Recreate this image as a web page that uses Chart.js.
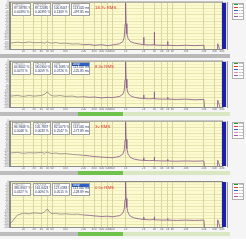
<!DOCTYPE html>
<html>
<head>
<meta charset="utf-8">
<script src="https://cdn.jsdelivr.net/npm/chart.js@4/dist/chart.umd.min.js"></script>
<style>
  body { margin: 0; background: #fff; font-family: "Liberation Sans", "DejaVu Sans", sans-serif; }
  #wrap { position: relative; width: 246px; height: 240px; overflow: hidden; background: #fff; }
  .panel { position: absolute; left: 0; width: 246px; height: 60px; background: #f5f5f5; }
  .panel canvas { position: absolute; }
  .box { position: absolute; background: #fff; border: 1px solid #a0a0a0; box-sizing: border-box;
         color: #1c2a55; font-size: 3.2px; line-height: 3.4px; padding: 0 1px; white-space: nowrap; overflow: hidden; }
  .box .hd { color: #888; font-size: 2.6px; line-height: 3.4px; }
  .box .hd.sel { background: #2f62c8; color: #fff; margin: 0 -1px; padding: 0 1px; }
  .rms { position: absolute; color: #e4322a; font-size: 4.3px; white-space: nowrap; }
  .legend { position: absolute; left: 232px; width: 12px; background: #fff; border: 1px solid #b0b0b0; box-sizing: border-box;
            font-size: 2.4px; line-height: 2.8px; color: #444; padding: 0 1px; white-space: nowrap; overflow: hidden; }
  .legend i { display: inline-block; width: 4px; height: 1px; vertical-align: middle; margin-right: 1px; }
  .strip { position: absolute; height: 4px; }
</style>
</head>
<body>
<div id="wrap"></div>
<script>
// frequency points shared by all four sweeps (Hz)
const freqHz = [12, 16, 20, 25, 30, 40, 45, 50, 55, 60, 70, 80, 100, 130, 160, 200, 250, 300, 400, 500,
  600, 700, 800, 900, 950, 980, 1000, 1020, 1050, 1100, 1200, 1400, 1700, 1980, 2000, 2020, 2500, 2970, 3000, 3030,
  4000, 4950, 5000, 5050, 7000, 10000, 14000, 20000, 21000, 22000, 30000, 33000, 34000, 35000, 40000];

// levels in dBr, one array per output level
const level187 = [-131, -128, -130, -127, -130, -129, -131, -127, -130, -131, -129, -132, -131, -134, -133, -136, -135, -138, -136, -139,
  -137, -135, -133, -126, -112, -70, 0, -68, -101, -116, -126, -131, -134, -136, -112, -136, -137, -136, -96, -137,
  -138, -138, -126, -138, -139, -138, -139, -138, -175, -175, -175, -175, -133, -140, -175];
const level83 = [-114, -112, -115, -112, -114, -112, -108, -100, -109, -113, -114, -112, -115, -114, -117, -116, -118, -117, -120, -118,
  -119, -117, -115, -108, -95, -60, 0, -58, -88, -104, -113, -118, -121, -122, -110, -122, -123, -122, -100, -123,
  -124, -124, -118, -124, -125, -124, -126, -125, -175, -175, -175, -175, -128, -134, -175];
const level3 = [-106, -104, -107, -105, -106, -104, -107, -103, -106, -108, -106, -109, -108, -111, -112, -114, -116, -118, -120, -121,
  -122, -120, -117, -110, -96, -62, 0, -60, -92, -110, -121, -127, -130, -131, -122, -131, -132, -131, -120, -132,
  -133, -133, -128, -133, -134, -133, -134, -133, -175, -175, -175, -175, -131, -138, -175];
const level05 = [-140, -110, -104, -106, -103, -105, -100, -90, -101, -106, -104, -107, -106, -108, -107, -110, -111, -113, -115, -114,
  -116, -114, -112, -104, -90, -58, 0, -55, -85, -103, -114, -120, -123, -125, -117, -125, -126, -125, -116, -126,
  -127, -127, -122, -127, -128, -127, -128, -127, -175, -175, -175, -175, -126, -134, -175];

const rmsLabels = ["18.7v RMS", "8.3v RMS", "3v RMS", "0.5v RMS"];
const boxTitles = ["THD+N L", "THD+N R", "Level", "Delay"];
const boxValues = [
  [["87.58785 %", "0.00390 %"], ["87.22085 %", "0.00395 %"], ["100.8447 %", "0.1309 %"], ["113.020 ms", "-497.85 ms"]],
  [["64.8002 %", "0.0073 %"], ["58.0300 %", "0.0059 %"], ["96.1685 %", "0.0726 %"], ["113.040 ms", "-125.85 ms"]],
  [["86.9848 %", "0.0048 %"], ["105.7837 %", "0.0033 %"], ["82.5073 %", "0.2547 %"], ["113.040 ms", "-177.89 ms"]],
  [["385.8347 %", "0.0327 %"], ["161.6423 %", "0.0094 %"], ["127.0383 %", "0.0515 %"], ["113.040 ms", "-128.89 ms"]]
];
const xTickHz = [20, 30, 40, 50, 60, 100, 200, 300, 400, 500, 600, 1000, 2000, 3000, 4000, 5000, 6000, 10000, 20000, 30000, 40000];
const meterTop = [0, 0, 0, 0];
const legendNames = ["Left", "Right", "L avg", "R avg", "Ref"];
const legendColors = ["#2c9a3a", "#d83a3a", "#3a5ac8", "#e58ab8", "#9a5aa8"];

const levels = [level187, level83, level3, level05];
// layout: panel top, plot top/bottom inside panel
const panelTop = [0, 59, 119, 179];
const plotTop = [2, 2, 2, 3];
const plotBottom = [49, 48, 47, 48];
const boxX = [12, 33, 52, 71];
const boxW = [19, 18, 18, 19];
const selectedBox = [false, true, false, true];

function hzLabel(v) {
  return v >= 1000 ? (v / 1000) + "k" : String(v);
}

// yellow plot background + frame
const plotBg = {
  id: "plotBg",
  beforeDraw(chart) {
    const a = chart.chartArea, ctx = chart.ctx;
    ctx.save();
    ctx.fillStyle = "#fcfacf";
    ctx.fillRect(a.left, a.top, a.right - a.left, a.bottom - a.top);
    ctx.restore();
  },
  afterDraw(chart) {
    const a = chart.chartArea, ctx = chart.ctx;
    ctx.save();
    ctx.strokeStyle = "#8c8c8c";
    ctx.lineWidth = 1;
    ctx.strokeRect(a.left - 0.5, a.top - 0.5, a.right - a.left + 1, a.bottom - a.top + 1);
    ctx.restore();
  }
};

const wrap = document.getElementById("wrap");

levels.forEach((lv, p) => {
  let panel = document.createElement("div");
  panel.className = "panel";
  panel.style.top = panelTop[p] + "px";
  wrap.appendChild(panel);

  // spectrum chart
  let cv = document.createElement("canvas");
  cv.width = 246; cv.height = 60;
  cv.style.left = "0px"; cv.style.top = "0px";
  cv.style.width = "246px"; cv.style.height = "60px";
  panel.appendChild(cv);

  new Chart(cv, {
    type: "line",
    data: {
      datasets: [{
        data: freqHz.map((f, i) => ({ x: f, y: lv[i] })),
        borderColor: "#8f8580",
        borderWidth: 0.8,
        pointRadius: 0,
        tension: 0,
        segment: {
          borderColor: c => c.p0.parsed.x >= 180 ? "#86588a" : "#8f8580"
        }
      }]
    },
    options: {
      responsive: false,
      animation: false,
      devicePixelRatio: 1,
      layout: { padding: { top: plotTop[p], right: 24, bottom: 60 - plotBottom[p] - 4, left: 1 } },
      plugins: { legend: { display: false }, tooltip: { enabled: false } },
      scales: {
        x: {
          type: "logarithmic",
          min: 12, max: 40000,
          afterBuildTicks: s => { s.ticks = xTickHz.map(v => ({ value: v })); },
          afterFit: s => { s.height = 4; },
          ticks: { autoSkip: false, maxRotation: 0, padding: 0, font: { size: 3 }, color: "#707070",
                   callback: v => hzLabel(v) },
          grid: { color: "#c9c38a", lineWidth: 0.7, drawTicks: false },
          border: { color: "#8c8c8c" }
        },
        y: {
          min: -150, max: 0,
          afterFit: s => { s.width = 9; },
          ticks: { stepSize: 10, autoSkip: false, padding: 1, font: { size: 2.6 }, color: "#808080" },
          grid: { color: c => c.tick.value % 20 === 0 ? "#d9d39c" : "#ece8b6", lineWidth: 0.6, drawTicks: false },
          border: { color: "#8c8c8c" }
        }
      }
    },
    plugins: [plotBg]
  });

  // level meter on the right
  let mv = document.createElement("canvas");
  mv.width = 14; mv.height = 60;
  mv.style.left = "221px"; mv.style.top = "0px";
  mv.style.width = "14px"; mv.style.height = "60px";
  panel.appendChild(mv);

  new Chart(mv, {
    type: "bar",
    data: {
      labels: ["L"],
      datasets: [{ data: [[-150, meterTop[p]]], backgroundColor: "#1d1fa6", barPercentage: 1, categoryPercentage: 0.7 }]
    },
    options: {
      responsive: false,
      animation: false,
      devicePixelRatio: 1,
      layout: { padding: { top: plotTop[p], bottom: 60 - plotBottom[p], left: 0, right: 0 } },
      plugins: { legend: { display: false }, tooltip: { enabled: false } },
      scales: {
        x: { display: false },
        y: {
          position: "right",
          min: -150, max: 0,
          afterFit: s => { s.width = 8; },
          ticks: { stepSize: 10, autoSkip: false, padding: 1, font: { size: 2.4 }, color: "#606060" },
          grid: { display: false },
          border: { color: "#9a9a9a" }
        }
      }
    }
  });

  // legend box
  let lg = document.createElement("div");
  lg.className = "legend";
  lg.style.top = (plotTop[p] + 1) + "px";
  lg.innerHTML = legendNames.map((n, i) => `<div><i style="background:${legendColors[i]}"></i>${n}</div>`).join("");
  panel.appendChild(lg);

  // readout boxes
  boxValues[p].forEach((vals, b) => {
    let bx = document.createElement("div");
    bx.className = "box";
    bx.style.left = boxX[b] + "px";
    bx.style.top = (plotTop[p] + 1) + "px";
    bx.style.width = boxW[b] + "px";
    bx.style.height = "13px";
    let sel = selectedBox[p] && b === 3 ? " sel" : "";
    bx.innerHTML = `<div class="hd${sel}">${boxTitles[b]}</div><div>${vals[0]}</div><div>${vals[1]}</div>`;
    panel.appendChild(bx);
  });

  // red level label
  let rl = document.createElement("div");
  rl.className = "rms";
  rl.style.left = "95px";
  rl.style.top = (plotTop[p] + 3) + "px";
  rl.textContent = rmsLabels[p];
  panel.appendChild(rl);

  // scroll strip under each plot
  let sTop = plotBottom[p] + 5;
  let parts = p === 0
    ? [[0, 230, "#b9b9b9"]]
    : [[0, 78, "#bdbdbd"], [78, 123, "#6fc24c"], [123, 230, "#d9e7c3"]];
  parts.forEach(pt => {
    let s = document.createElement("div");
    s.className = "strip";
    s.style.left = pt[0] + "px";
    s.style.width = (pt[1] - pt[0]) + "px";
    s.style.top = sTop + "px";
    s.style.background = pt[2];
    panel.appendChild(s);
  });
});
</script>
</body>
</html>
